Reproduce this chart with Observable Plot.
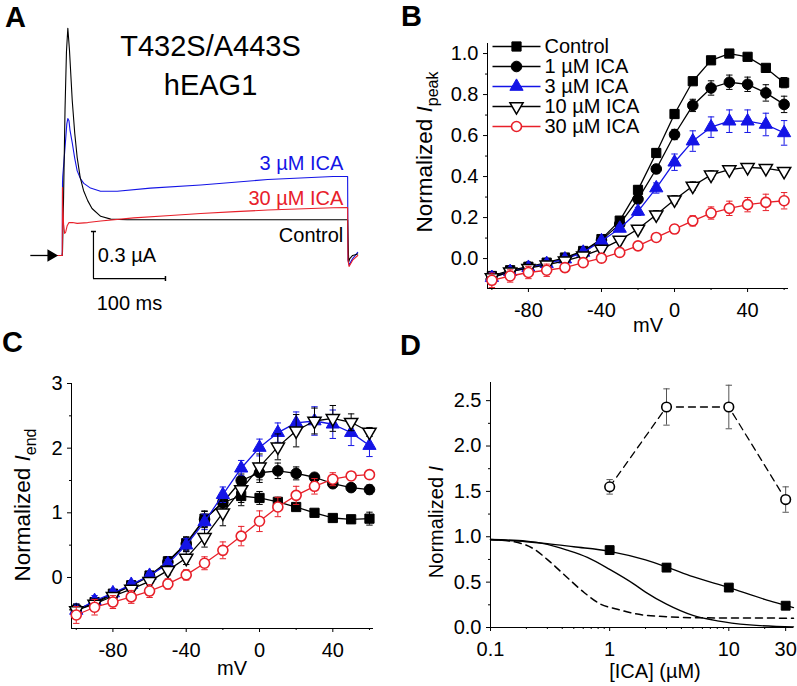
<!DOCTYPE html>
<html><head><meta charset="utf-8">
<script src="https://cdn.jsdelivr.net/npm/d3@7"></script>
<script src="https://cdn.jsdelivr.net/npm/@observablehq/plot@0.6"></script>
<style>
body{margin:0;background:#fff;}
#fig{position:relative;width:797px;height:686px;overflow:hidden;font-family:"Liberation Sans",Arial,sans-serif;color:#000;background:#fff;}
#fig > *{position:absolute;}
.plabel{font-weight:bold;font-size:29px;line-height:1;}
</style></head><body><div id="fig"></div>
<script>
// ---------------- DATA ----------------
// Panel A: current traces (time in ms from pulse onset, current in µA)
const ctrlT = [-7, -0.5, 0, 1.4, 3.5, 5.5, 7.4, 9.7, 13.5, 17, 20.4, 24.5, 29.2, 35, 41, 53, 67, 90, 150, 250, 396, 396.5, 397.5, 399, 403, 410];
const ctrlI = [0, 0, 0.02, 0.35, 0.93, 1.3, 1.45, 1.31, 0.99, 0.78, 0.625, 0.5, 0.415, 0.35, 0.30, 0.25, 0.232, 0.228, 0.228, 0.228, 0.228, 0.12, -0.04, -0.02, 0.0, 0.01];
const ica3T = [-7, -0.3, 0, 0.3, 2, 4.2, 6, 7.4, 9, 10.4, 13.5, 17, 20.4, 25, 29.6, 38.9, 52.8, 76, 122, 192, 285, 376, 396, 396.5, 398, 403, 410];
const ica3I = [0, 0, 0.46, 0.5, 0.6, 0.73, 0.84, 0.874, 0.86, 0.8, 0.72, 0.62, 0.54, 0.49, 0.46, 0.43, 0.41, 0.41, 0.43, 0.45, 0.485, 0.504, 0.504, -0.03, -0.06, -0.02, 0.02];
const ica30T = [-7, -0.3, 0, 0.3, 1.5, 3, 4.5, 6.5, 9, 14, 20.4, 35, 53, 99, 150, 192, 240, 285, 376, 396, 396.5, 398, 403, 410];
const ica30I = [0, 0, 0.434, 0.33, 0.2, 0.14, 0.15, 0.19, 0.21, 0.21, 0.205, 0.21, 0.22, 0.24, 0.255, 0.268, 0.28, 0.29, 0.305, 0.306, -0.03, -0.07, -0.03, 0.0];
const traceLabels = ["3 µM ICA", "30 µM ICA", "Control"];
const titleLines = ["T432S/A443S", "hEAG1"];
const scaleLabels = ["0.3 µA", "100 ms"];

// Panels B & C: I-V relations
const voltages = [-100, -90, -80, -70, -60, -50, -40, -30, -20, -10, 0, 10, 20, 30, 40, 50, 60];
const seriesNames = ["Control", "1 µM ICA", "3 µM ICA", "10 µM ICA", "30 µM ICA"];
const peakControl = [-0.085, -0.057, -0.04, -0.02, 0.005, 0.037, 0.095, 0.185, 0.335, 0.515, 0.705, 0.865, 0.967, 1.0, 0.984, 0.93, 0.858];
const peakControlErr = [0.02, 0.015, 0.012, 0.01, 0.01, 0.01, 0.012, 0.015, 0.02, 0.02, 0.02, 0.015, 0.01, 0.005, 0.01, 0.015, 0.025];
const peak1 = [-0.09, -0.06, -0.04, -0.023, 0, 0.034, 0.09, 0.168, 0.29, 0.437, 0.605, 0.747, 0.832, 0.86, 0.85, 0.808, 0.752];
const peak1Err = [0.02, 0.015, 0.012, 0.01, 0.01, 0.01, 0.012, 0.015, 0.02, 0.02, 0.025, 0.03, 0.035, 0.035, 0.035, 0.04, 0.04];
const peak3 = [-0.093, -0.064, -0.044, -0.025, -0.003, 0.03, 0.086, 0.147, 0.23, 0.344, 0.47, 0.573, 0.641, 0.67, 0.67, 0.654, 0.613];
const peak3Err = [0.025, 0.02, 0.015, 0.012, 0.01, 0.01, 0.012, 0.015, 0.02, 0.025, 0.04, 0.05, 0.05, 0.055, 0.055, 0.055, 0.06];
const peak10 = [-0.093, -0.064, -0.047, -0.031, -0.011, 0.013, 0.046, 0.09, 0.144, 0.214, 0.287, 0.354, 0.408, 0.434, 0.445, 0.44, 0.426];
const peak10Err = [0.02, 0.015, 0.012, 0.01, 0.01, 0.01, 0.01, 0.012, 0.015, 0.02, 0.02, 0.02, 0.02, 0.015, 0.012, 0.012, 0.012];
const peak30 = [-0.106, -0.085, -0.068, -0.057, -0.044, -0.02, 0.002, 0.03, 0.062, 0.103, 0.144, 0.184, 0.222, 0.245, 0.263, 0.274, 0.282];
const peak30Err = [0.035, 0.03, 0.03, 0.03, 0.02, 0.015, 0.01, 0.01, 0.012, 0.015, 0.02, 0.025, 0.03, 0.035, 0.035, 0.04, 0.04];

const endControl = [-0.5, -0.38, -0.25, -0.12, 0.03, 0.25, 0.53, 0.91, 1.16, 1.26, 1.23, 1.17, 1.09, 1.0, 0.92, 0.9, 0.91];
const endControlErr = [0.08, 0.07, 0.05, 0.05, 0.05, 0.07, 0.1, 0.12, 0.1, 0.15, 0.1, 0.07, 0.04, 0.04, 0.05, 0.06, 0.1];
const end1 = [-0.5, -0.4, -0.26, -0.13, 0.02, 0.24, 0.52, 0.9, 1.16, 1.5, 1.62, 1.65, 1.61, 1.55, 1.45, 1.39, 1.36];
const end1Err = [0.08, 0.07, 0.05, 0.05, 0.05, 0.07, 0.1, 0.12, 0.12, 0.1, 0.15, 0.12, 0.1, 0.06, 0.05, 0.06, 0.07];
const end3 = [-0.51, -0.36, -0.24, -0.11, 0.03, 0.21, 0.5, 0.86, 1.28, 1.69, 2.01, 2.24, 2.39, 2.42, 2.37, 2.24, 2.04];
const end3Err = [0.1, 0.08, 0.05, 0.05, 0.05, 0.07, 0.1, 0.12, 0.12, 0.12, 0.13, 0.15, 0.17, 0.22, 0.22, 0.2, 0.17];
const end10 = [-0.51, -0.41, -0.29, -0.18, -0.06, 0.11, 0.3, 0.62, 1.0, 1.36, 1.71, 2.02, 2.27, 2.42, 2.46, 2.4, 2.25];
const end10Err = [0.1, 0.08, 0.05, 0.05, 0.05, 0.07, 0.1, 0.15, 0.2, 0.2, 0.2, 0.2, 0.25, 0.2, 0.2, 0.13, 0.07];
const end30 = [-0.58, -0.46, -0.38, -0.3, -0.21, -0.1, 0.04, 0.22, 0.42, 0.64, 0.87, 1.09, 1.27, 1.41, 1.52, 1.57, 1.59];
const end30Err = [0.13, 0.12, 0.1, 0.1, 0.1, 0.08, 0.08, 0.1, 0.13, 0.15, 0.16, 0.15, 0.14, 0.12, 0.1, 0.06, 0.05];

// Panel D: concentration dependence
const concs = [1, 3, 10, 30];
const endRatio = [1.55, 2.43, 2.43, 1.41];
const endRatioErr = [0.08, 0.2, 0.24, 0.14];
const peakRatio = [0.853, 0.66, 0.44, 0.24];
const peakRatioErr = [0.02, 0.04, 0.02, 0.02];
const fitPeakConc = [0.1, 0.2, 0.3, 0.5, 1, 2, 3, 5, 10, 20, 30, 34.9];
const fitPeakVal = [0.967, 0.945, 0.925, 0.89, 0.84, 0.745, 0.668, 0.56, 0.44, 0.31, 0.245, 0.22];
const fitMidConc = [0.1, 0.2, 0.3, 0.44, 0.65, 1, 1.6, 2, 3, 5, 8, 15, 34.9];
const fitMidVal = [0.97, 0.952, 0.916, 0.852, 0.772, 0.64, 0.478, 0.39, 0.257, 0.133, 0.074, 0.029, 0.007];
const fitDashConc = [0.1, 0.147, 0.232, 0.32, 0.44, 0.61, 0.84, 1.16, 1.6, 3.04, 5.8, 34.9];
const fitDashVal = [0.97, 0.952, 0.864, 0.717, 0.551, 0.386, 0.257, 0.202, 0.154, 0.118, 0.107, 0.103];

// Tick values
const ivTicks = [-80, -40, 0, 40];
const ivMinorTicks = [-100, -60, -20, 20, 60];
const peakTicks = [0, 0.2, 0.4, 0.6, 0.8, 1.0];
const peakMinorTicks = [-0.1, 0.1, 0.3, 0.5, 0.7, 0.9];
const endTicks = [0, 1, 2, 3];
const endMinorTicks = [-0.5, 0.5, 1.5, 2.5];
const dYTicks = [0, 0.5, 1.0, 1.5, 2.0, 2.5];
const dYMinorTicks = [0.25, 0.75, 1.25, 1.75, 2.25];
const concTicks = [0.1, 1, 10, 30];
const concMinorTicks = [0.2, 0.3, 0.4, 0.5, 0.6, 0.7, 0.8, 0.9, 2, 3, 4, 5, 6, 7, 8, 9, 20];

// ---------------- STYLE ----------------
const BLUE = "#1414e6", RED = "#e8202a";
const FONT = "'Liberation Sans', Arial, sans-serif";
const baseStyle = {fontFamily: FONT, fontSize: "20px", color: "black", background: "transparent", overflow: "visible", maxWidth: "none"};
const capSym = {draw(ctx, size) { const w = Math.sqrt(size / Math.PI); ctx.moveTo(-w, 0); ctx.lineTo(w, 0); }};
const vCapSym = {draw(ctx, size) { const w = Math.sqrt(size / Math.PI); ctx.moveTo(0, -w); ctx.lineTo(0, w); }};

const markerStyles = [
  {symbol: "square", fill: "black", stroke: "black", color: "black", r: 5.2, sw: 1, rotate: 0},
  {symbol: "circle", fill: "black", stroke: "black", color: "black", r: 5.3, sw: 1, rotate: 0},
  {symbol: "triangle", fill: BLUE, stroke: BLUE, color: BLUE, r: 4.9, sw: 1, rotate: 0},
  {symbol: "triangle", fill: "white", stroke: "black", color: "black", r: 4.9, sw: 1.5, rotate: 180},
  {symbol: "circle", fill: "white", stroke: RED, color: RED, r: 5, sw: 1.6, rotate: 0}
];

const fig = document.getElementById("fig");
function place(node, left, top) { node.style.left = left + "px"; node.style.top = top + "px"; fig.appendChild(node); return node; }
function label(txt, left, top) { const d = document.createElement("div"); d.className = "plabel"; d.textContent = txt; place(d, left, top); }

function seriesMarks(vals, errs, st, xs, opts = {}) {
  const rows = xs.map((x, i) => ({x, y: vals[i], e: errs[i]}));
  const ecol = opts.errColor || st.color;
  return [
    Plot.ruleX(rows, {x: "x", y1: d => d.y - d.e, y2: d => d.y + d.e, stroke: ecol, strokeWidth: 1}),
    Plot.dot(rows, {x: "x", y: d => d.y + d.e, symbol: capSym, r: 3.2, stroke: ecol, fill: "none", strokeWidth: 1}),
    Plot.dot(rows, {x: "x", y: d => d.y - d.e, symbol: capSym, r: 3.2, stroke: ecol, fill: "none", strokeWidth: 1}),
    opts.noLine ? null : Plot.line(rows, {x: "x", y: "y", stroke: st.color, strokeWidth: 1.3, strokeDasharray: opts.dash}),
    Plot.dot(rows, {x: "x", y: "y", symbol: st.symbol, r: st.r, fill: st.fill, stroke: st.stroke, strokeWidth: st.sw, rotate: st.rotate})
  ];
}

function axesMarks(xT, xMinor, yT, yMinor, xfmt, yfmt, xMin, yMin) {
  return [
    Plot.ruleX([xMin], {stroke: "black", strokeWidth: 1}),
    Plot.ruleY([yMin], {stroke: "black", strokeWidth: 1}),
    Plot.axisX({ticks: xT, tickSize: 4, tickPadding: 10, tickFormat: xfmt, label: null}),
    Plot.axisX({ticks: xMinor, tickSize: 2, tickFormat: () => "", label: null}),
    Plot.axisY({ticks: yT, tickSize: 4, tickPadding: 5, tickFormat: yfmt, label: null}),
    Plot.axisY({ticks: yMinor, tickSize: 2, tickFormat: () => "", label: null})
  ];
}

function yLabel(svg, x, y, sub, size) {
  const t = d3.select(svg).append("text")
    .attr("transform", `translate(${x},${y}) rotate(-90)`)
    .attr("text-anchor", "middle").attr("fill", "black")
    .attr("font-size", size).attr("font-family", FONT);
  t.append("tspan").text("Normalized ");
  t.append("tspan").attr("font-style", "italic").text("I");
  if (sub) t.append("tspan").attr("font-size", Math.round(size * 0.72)).attr("dy", 6).text(sub);
}
function xLabel(svg, x, y, txt) {
  d3.select(svg).append("text").attr("x", x).attr("y", y).attr("text-anchor", "middle")
    .attr("fill", "black").attr("font-size", 20).attr("font-family", FONT).text(txt);
}

// ---------------- PANEL A ----------------
const rowsA = (T, I) => T.map((t, i) => ({t, i: I[i]}));
const A = Plot.plot({
  width: 400, height: 310, marginLeft: 20, marginRight: 20, marginTop: 0, marginBottom: 0,
  x: {domain: [-58.333, 441.667], axis: null},
  y: {domain: [-0.351, 1.627], axis: null},
  style: baseStyle,
  marks: [
    Plot.line(rowsA(ica3T, ica3I), {x: "t", y: "i", stroke: BLUE, strokeWidth: 1.1}),
    Plot.line(rowsA(ctrlT, ctrlI), {x: "t", y: "i", stroke: "black", strokeWidth: 1.1}),
    Plot.line(rowsA(ica30T, ica30I), {x: "t", y: "i", stroke: RED, strokeWidth: 1.1}),
    // holding-current arrow
    Plot.ruleY([0], {x1: -44, x2: -16, stroke: "black", strokeWidth: 1.3}),
    Plot.dot([0], {x: -16, y: 0, symbol: "triangle", rotate: 90, r: 3.6, fill: "black", stroke: "black"}),
    // scale bars
    Plot.ruleX([43], {y1: -0.147, y2: 0.153, stroke: "black", strokeWidth: 1.2}),
    Plot.ruleY([-0.147], {x1: 43, x2: 143, stroke: "black", strokeWidth: 1.2}),
    Plot.dot([0], {x: 43, y: 0.153, symbol: capSym, r: 2.5, stroke: "black", fill: "none"}),
    Plot.dot([0], {x: 143, y: -0.147, symbol: vCapSym, r: 2.5, stroke: "black", fill: "none"}),
    Plot.text([scaleLabels[0]], {x: 49, y: 0, text: d => d, textAnchor: "start", fontSize: 20}),
    Plot.text([scaleLabels[1]], {x: 93, y: -0.147, text: d => d, dy: 25, fontSize: 20}),
    // trace labels
    Plot.text([traceLabels[0]], {x: 390, y: 0.587, text: d => d, textAnchor: "end", fill: BLUE, fontSize: 20}),
    Plot.text([traceLabels[1]], {x: 390, y: 0.364, text: d => d, textAnchor: "end", fill: RED, fontSize: 20}),
    Plot.text([traceLabels[2]], {x: 390, y: 0.128, text: d => d, textAnchor: "end", fill: "black", fontSize: 20}),
    // title
    Plot.text([titleLines[0]], {x: 205.6, y: 1.33, text: d => d, fontSize: 29}),
    Plot.text([titleLines[1]], {x: 205.6, y: 1.085, text: d => d, fontSize: 29})
  ]
});
place(A, 0, 0);

// ---------------- PANEL B ----------------
const Bdom = {x: [-102.4, 62.4], y: [-0.146, 1.049]};
const peakSeries = [[peakControl, peakControlErr], [peak1, peak1Err], [peak3, peak3Err], [peak10, peak10Err], [peak30, peak30Err]];
const B = Plot.plot({
  width: 397, height: 340, marginLeft: 87, marginRight: 9, marginTop: 43, marginBottom: 52,
  x: {domain: Bdom.x}, y: {domain: Bdom.y},
  style: baseStyle,
  marks: [
    ...axesMarks(ivTicks, ivMinorTicks, peakTicks, peakMinorTicks, d => String(d), d3.format(".1f"), Bdom.x[0], Bdom.y[0]),
    ...peakSeries.flatMap(([v, e], k) => seriesMarks(v, e, markerStyles[k], voltages))
  ]
});
yLabel(B, 32, 152, "peak", 22.5);
xLabel(B, 248, 332, "mV");
place(B, 400, 0);

// legend for B
const legend = Plot.plot({
  width: 230, height: 130, marginLeft: 0, marginRight: 0, marginTop: 0, marginBottom: 0,
  x: {domain: [0, 1], range: [2, 50], axis: null},
  y: {type: "point", domain: seriesNames, range: [13, 115], axis: null},
  style: baseStyle,
  marks: seriesNames.flatMap((name, k) => {
    const st = markerStyles[k];
    return [
      Plot.link([name], {x1: 0, x2: 1, y1: d => d, y2: d => d, stroke: st.color, strokeWidth: 1.3}),
      Plot.dot([name], {x: 0.5, y: d => d, symbol: st.symbol, r: st.r, fill: st.fill, stroke: st.stroke, strokeWidth: st.sw, rotate: st.rotate}),
      Plot.text([name], {x: 1, y: d => d, text: d => d, dx: 4, textAnchor: "start", fontSize: 20})
    ];
  })
});
place(legend, 490, 22);

// ---------------- PANEL C ----------------
const Cdom = {x: [-102.6, 62.2], y: [-0.789, 3]};
const endSeries = [[endControl, endControlErr], [end1, end1Err], [end3, end3Err], [end10, end10Err], [end30, end30Err]];
const C = Plot.plot({
  width: 400, height: 356, marginLeft: 71, marginRight: 27, marginTop: 53, marginBottom: 58,
  x: {domain: Cdom.x}, y: {domain: Cdom.y},
  style: baseStyle,
  marks: [
    ...axesMarks(ivTicks, ivMinorTicks, endTicks, endMinorTicks, d => String(d), d => String(d), Cdom.x[0], Cdom.y[0]),
    ...endSeries.flatMap(([v, e], k) => seriesMarks(v, e, markerStyles[k], voltages))
  ]
});
yLabel(C, 30, 175, "end", 22.5);
xLabel(C, 232, 345, "mV");
place(C, 0, 330);

// ---------------- PANEL D ----------------
const Ddom = {x: [0.1, 34.9], y: [0, 2.7]};
const fitRows = (c, v) => c.map((x, i) => ({x, y: v[i]}));
const D = Plot.plot({
  width: 397, height: 356, marginLeft: 90, marginRight: 4, marginTop: 52, marginBottom: 59,
  x: {type: "log", domain: Ddom.x}, y: {domain: Ddom.y},
  style: baseStyle,
  marks: [
    ...axesMarks(concTicks, concMinorTicks, dYTicks, dYMinorTicks, d => String(d), d3.format(".1f"), Ddom.x[0], Ddom.y[0]),
    Plot.line(fitRows(fitDashConc, fitDashVal), {x: "x", y: "y", stroke: "black", strokeWidth: 1.5, strokeDasharray: "7,5", curve: "monotone-x"}),
    Plot.line(fitRows(fitMidConc, fitMidVal), {x: "x", y: "y", stroke: "black", strokeWidth: 1.3, curve: "monotone-x"}),
    Plot.line(fitRows(fitPeakConc, fitPeakVal), {x: "x", y: "y", stroke: "black", strokeWidth: 1.3, curve: "monotone-x"}),
    ...seriesMarks(peakRatio, peakRatioErr, {symbol: "square", fill: "black", stroke: "black", color: "black", r: 5, sw: 1, rotate: 0}, concs, {noLine: true}),
    ...seriesMarks(endRatio, endRatioErr, {symbol: "circle", fill: "white", stroke: "black", color: "black", r: 4.8, sw: 1.6, rotate: 0}, concs, {dash: "7,5", errColor: "#555"})
  ]
});
yLabel(D, 43, 192, null, 20);
xLabel(D, 255, 348, "[ICA] (µM)");
place(D, 400, 330);

// panel letters
label("A", 5, 3);
label("B", 401, 2);
label("C", 2, 328);
label("D", 400, 331);
</script></body></html>
